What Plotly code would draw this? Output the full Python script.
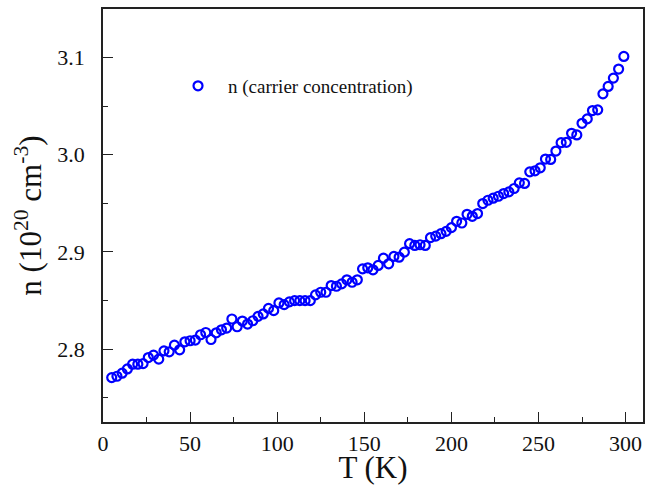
import plotly.graph_objects as go

T_start = 5
T_step = 3
n_values = [
    2.7707, 2.7721, 2.7752, 2.7796, 2.7845, 2.7845, 2.7851, 2.7913, 2.7938, 2.7897,
    2.7982, 2.7972, 2.8041, 2.7993, 2.8075, 2.8086, 2.8093, 2.8148, 2.8171, 2.8099,
    2.8168, 2.8199, 2.8217, 2.8310, 2.8230, 2.8289, 2.8258, 2.8292, 2.8337, 2.8362,
    2.8419, 2.8396, 2.8475, 2.8458, 2.8486, 2.8499, 2.8499, 2.8499, 2.8499, 2.8558,
    2.8585, 2.8585, 2.8654, 2.8647, 2.8671, 2.8713, 2.8688, 2.8713, 2.8826, 2.8837,
    2.8816, 2.8861, 2.8936, 2.8878, 2.8954, 2.8946, 2.8998, 2.9085, 2.9067, 2.9074,
    2.9067, 2.9147, 2.9163, 2.9188, 2.9212, 2.9250, 2.9315, 2.9298, 2.9387, 2.9367,
    2.9395, 2.9498, 2.9532, 2.9553, 2.9573, 2.9601, 2.9618, 2.9653, 2.9711, 2.9705,
    2.9824, 2.9835, 2.9866, 2.9956, 2.9952, 3.0038, 3.0124, 3.0128, 3.0221, 3.0204,
    3.0324, 3.0369, 3.0455, 3.0462, 3.0627, 3.0703, 3.0789, 3.0882, 3.1012,
]
T_values = [T_start + T_step * i for i in range(len(n_values))]

x_ticks = [0, 50, 100, 150, 200, 250, 300]
y_ticks = [2.8, 2.9, 3.0, 3.1]
y_tick_labels = ["2.8", "2.9", "3.0", "3.1"]
series_name = "n (carrier concentration)"

FONT = "Liberation Serif"

fig = go.Figure()
fig.add_trace(go.Scatter(
    x=T_values, y=n_values, mode="markers", name=series_name,
    marker=dict(symbol="circle-open", size=9, color="#0000ff",
                line=dict(width=2.2, color="#0000ff")),
    showlegend=True,
))

axis_common = dict(
    showline=True, linecolor="#222222", linewidth=1.6, mirror=True,
    ticks="inside", ticklen=10, tickwidth=1.4, tickcolor="#222222",
    showgrid=False, zeroline=False, automargin=False,
    tickfont=dict(family=FONT, size=22, color="#111111"),
)

fig.update_xaxes(
    range=[0, 310], tickvals=x_ticks, ticklabelstandoff=1,
    minor=dict(ticks="inside", ticklen=5, tickwidth=1.2, tickcolor="#222222", dtick=25, tick0=0, showgrid=False),
    title=dict(text="T (K)", font=dict(family=FONT, size=31, color="#111111"), standoff=0),
    **axis_common,
)
fig.update_yaxes(
    range=[2.725, 3.15], tickvals=y_ticks, ticktext=y_tick_labels, ticklabelstandoff=12,
    minor=dict(ticks="inside", ticklen=5, tickwidth=1.2, tickcolor="#222222", dtick=0.05, tick0=2.75, showgrid=False),
    title=dict(text="n (10<sup>20</sup> cm<sup>-3</sup>)", font=dict(family=FONT, size=31, color="#111111"), standoff=6),
    **axis_common,
)

fig.update_layout(
    width=652, height=485,
    margin=dict(l=103, r=9, t=9, b=63),
    paper_bgcolor="white", plot_bgcolor="white",
    font=dict(family=FONT),
    legend=dict(x=0.1204, y=0.8136, xanchor="left", yanchor="middle",
                bgcolor="rgba(0,0,0,0)", font=dict(family=FONT, size=19, color="#111111"),
                itemwidth=50),
)

fig.write_html("out.html", config={"displayModeBar": False},
               post_script="document.body.style.margin='0';document.body.style.overflow='hidden';")
